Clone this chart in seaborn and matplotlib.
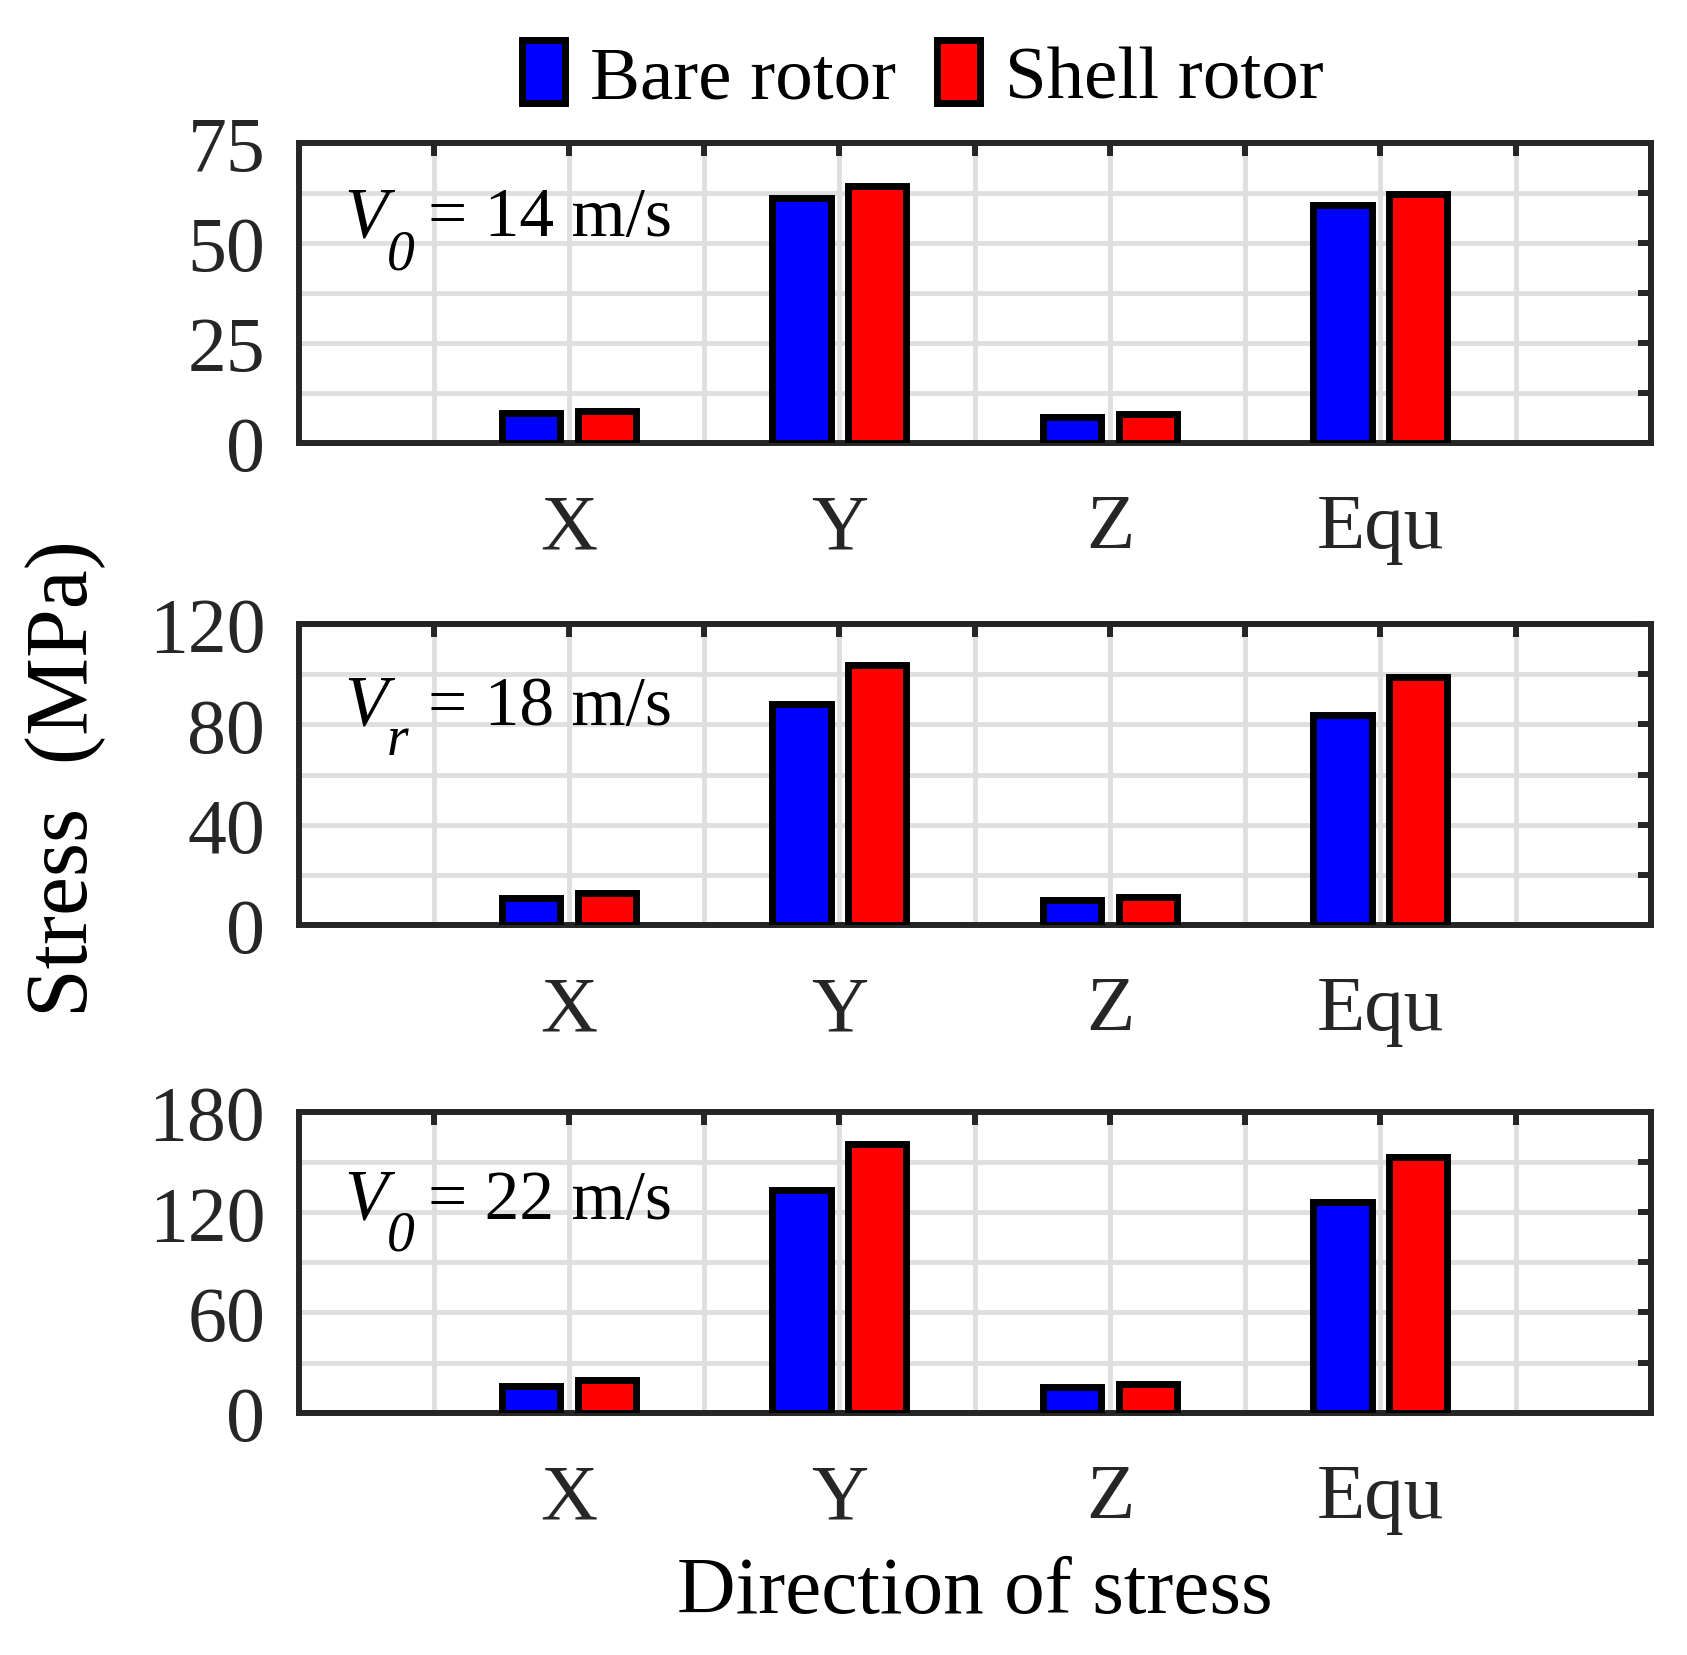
import matplotlib
matplotlib.use("Agg")
import matplotlib.pyplot as plt
import seaborn as sns
import pandas as pd
import numpy as np
from matplotlib.patches import Patch

# ---- data ----
directions = ["X", "Y", "Z", "Equ"]
series_names = ["Bare rotor", "Shell rotor"]
bare_14 = [7.4, 61.3, 6.4, 59.4]
shell_14 = [7.9, 64.2, 7.2, 62.2]
bare_18 = [10.8, 88.3, 10.0, 83.9]
shell_18 = [12.8, 103.6, 11.2, 98.8]
bare_22 = [16.0, 133.5, 15.4, 126.3]
shell_22 = [19.6, 160.7, 17.2, 152.8]
panel_symbols = ["0", "r", "0"]
panel_speeds = ["= 14 m/s", "= 18 m/s", "= 22 m/s"]
y_max = [75, 120, 180]
y_step = [12.5, 20, 30]

sns.set_theme(style="white")
plt.rcParams["font.family"] = ["Liberation Serif", "DejaVu Serif"]

DARK = "#262626"
GRID = "#dfdfdf"
colors = {"Bare rotor": "#0000ff", "Shell rotor": "#ff0000"}

fig, axes = plt.subplots(3, 1, figsize=(16.87, 16.56), dpi=100)
positions = [
    [0.1770, 0.732, 0.8015, 0.181],
    [0.1770, 0.4409, 0.8015, 0.1816],
    [0.1770, 0.1463, 0.8015, 0.1816],
]
panels = [(bare_14, shell_14), (bare_18, shell_18), (bare_22, shell_22)]

for i, ax in enumerate(axes):
    bare, shell = panels[i]
    df = pd.DataFrame({
        "Direction": directions * 2,
        "Rotor": [series_names[0]] * 4 + [series_names[1]] * 4,
        "Stress": bare + shell,
    })
    sns.barplot(data=df, x="Direction", y="Stress", hue="Rotor",
                order=directions, hue_order=series_names,
                palette=colors, saturation=1, width=0.56, gap=0.23,
                edgecolor="black", linewidth=5, ax=ax, legend=False,
                errorbar=None, zorder=3)
    ax.set_position(positions[i])
    ax.set_xlim(-1, 4)
    xt = np.arange(-0.5, 3.51, 0.5)
    ax.set_xticks(xt)
    xl = []
    for v in xt:
        if abs(v - round(v)) < 1e-9 and 0 <= round(v) <= 3:
            xl.append(directions[int(round(v))])
        else:
            xl.append("")
    ax.set_xticklabels(xl)
    ax.set_ylim(0, y_max[i])
    yt = np.arange(0, y_max[i] + 1e-9, y_step[i])
    ax.set_yticks(yt)
    ax.set_yticklabels([("%g" % v) if k % 2 == 0 else "" for k, v in enumerate(yt)])
    ax.set_axisbelow(True)
    ax.grid(True, axis="both", color=GRID, linewidth=3.5)
    for s in ax.spines.values():
        s.set_visible(True)
        s.set_color(DARK)
        s.set_linewidth(4.3)
    ax.tick_params(axis="both", direction="in", length=9.5, width=4.3,
                   color=DARK, top=True, right=True, labelcolor=DARK)
    ax.tick_params(axis="y", labelsize=56, pad=24)
    ax.tick_params(axis="x", labelsize=57, pad=36)
    ax.set_xlabel("")
    ax.set_ylabel("")

    # annotation
    y_base = [0.693, 0.669, 0.648][i]
    y_sub = [0.58, 0.567, 0.542][i]
    ax.text(0.034, y_base, "V", transform=ax.transAxes, fontsize=51,
            fontstyle="italic", color="black", va="baseline", ha="left", zorder=5)
    ax.text(0.065, y_sub, panel_symbols[i], transform=ax.transAxes, fontsize=40,
            fontstyle="italic", color="black", va="baseline", ha="left", zorder=5)
    ax.text(0.0955, y_base, panel_speeds[i], transform=ax.transAxes, fontsize=50,
            color="black", va="baseline", ha="left", zorder=5)

axes[2].set_xlabel("Direction of stress", fontsize=58.5, color="black", labelpad=16)
fig.text(0.039, 0.53, "Stress  (MPa)", rotation=90, fontsize=63,
         ha="center", va="center", color="black")

handles = [Patch(facecolor=colors[n], edgecolor="black", linewidth=5) for n in series_names]
fig.legend(handles, series_names, loc="center", bbox_to_anchor=(0.547, 0.953),
           ncol=2, frameon=False, fontsize=54, handlelength=0.58, handleheight=0.9,
           handletextpad=0.33, columnspacing=0.54, labelcolor="black")

fig.savefig("out.png", dpi=100)
